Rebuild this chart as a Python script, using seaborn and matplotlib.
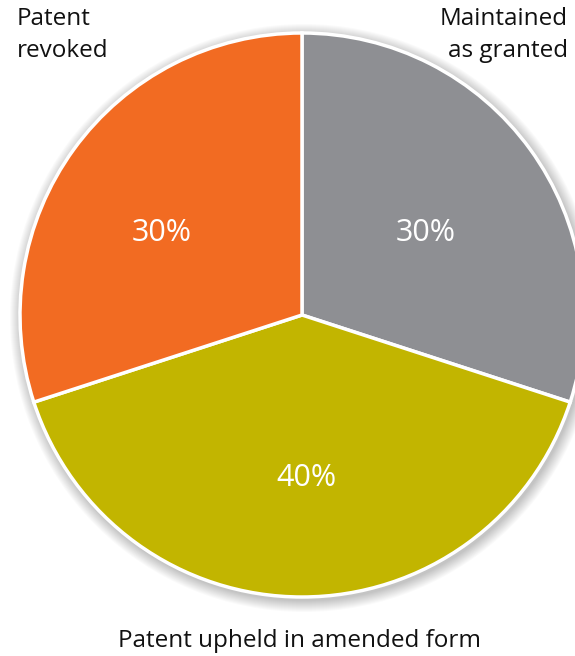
import matplotlib
matplotlib.use("Agg")
import matplotlib.pyplot as plt
import seaborn as sns
from matplotlib.patches import Circle

sns.set_theme(style="white")
plt.rcParams['font.family'] = ['Open Sans', 'DejaVu Sans']

# outcome shares, clockwise from the top
outcomes = ["Maintained\nas granted", "Patent upheld in amended form", "Patent\nrevoked"]
shares = [30, 40, 30]
colors = ["#8E8F93", "#C2B500", "#F26B22"]

fig = plt.figure(figsize=(5.75, 6.56), dpi=100)
ax = fig.add_axes([0, 0, 1, 1])

cx, cy, r = 302, 341, 282

# soft shadow behind the pie
for k in range(12, 0, -1):
    ax.add_patch(Circle((cx + 2, cy - 3), r + k, color="black", alpha=0.018, lw=0, zorder=0))

wedges, _ = ax.pie(shares, colors=colors, startangle=90, counterclock=False,
                   center=(cx, cy), radius=r, frame=True,
                   wedgeprops=dict(edgecolor="white", linewidth=2.5))
for w in wedges:
    w.set_zorder(2)
ax.set_xlim(0, 575)
ax.set_ylim(0, 656)
ax.set_aspect("equal")
ax.axis("off")

# percentage labels inside the slices
pct_pos = [(426, 423), (306, 178), (162, 423)]
for (x, y), v in zip(pct_pos, shares):
    ax.text(x, y, f"{v}%", color="white", fontsize=22, ha="center", va="center", zorder=3)

ax.text(17, 621, outcomes[2], fontsize=17.5, color="#111111", ha="left", va="center",
        linespacing=1.45)
ax.text(568, 621, outcomes[0], fontsize=17.5, color="#111111", ha="right", va="center",
        linespacing=1.45)
ax.text(300, 15, outcomes[1], fontsize=17.5, color="#111111", ha="center", va="center")

fig.savefig("out.png", dpi=100)
